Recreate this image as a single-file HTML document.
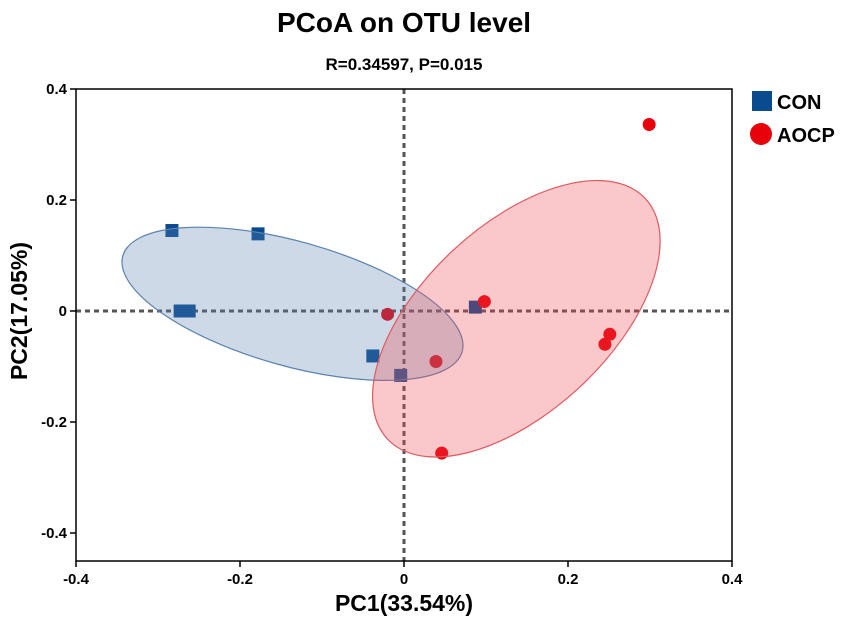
<!DOCTYPE html>
<html><head><meta charset="utf-8"><style>
html,body{margin:0;padding:0;background:#fff;}
svg{display:block;font-family:"Liberation Sans",Arial,sans-serif;font-weight:bold;}
</style></head><body>
<svg id="chart" width="851" height="621" viewBox="0 0 851 621" xmlns="http://www.w3.org/2000/svg">
<text x="404" y="32" font-size="28" text-anchor="middle">PCoA on OTU level</text>
<text x="404" y="70" font-size="17" text-anchor="middle">R=0.34597, P=0.015</text>
<g id="plot"></g>
<text x="404" y="611" font-size="23" text-anchor="middle">PC1(33.54%)</text>
<text transform="translate(27,311) rotate(-90)" font-size="23" text-anchor="middle">PC2(17.05%)</text>
<g>
<rect x="752" y="91" width="20" height="20" fill="#0a4a8f"/>
<text x="777" y="109" font-size="20">CON</text>
<circle cx="761" cy="134" r="11" fill="#e8000b"/>
<text x="777" y="142" font-size="20">AOCP</text>
</g>
</svg>
<script>
const xTicks=[-0.4,-0.2,0,0.2,0.4];
const yTicks=[-0.4,-0.2,0,0.2,0.4];
const xTickLabels=["-0.4","-0.2","0","0.2","0.4"];
const yTickLabels=["-0.4","-0.2","0","0.2","0.4"];
const conX=[-0.283,-0.178,-0.273,-0.262,-0.038,-0.004,0.087];
const conY=[0.145,0.139,0,0,-0.081,-0.116,0.007];
const aocpX=[-0.020,0.098,0.039,0.251,0.245,0.046,0.299];
const aocpY=[-0.006,0.017,-0.091,-0.042,-0.060,-0.256,0.336];
// ellipses: center x, center y (data), semi-axes (data units), rotation deg
const conEllipse=[-0.136,0.013,0.215,0.112,15.75];
const aocpEllipse=[0.137,-0.014,0.215,0.168,-43];

const NS="http://www.w3.org/2000/svg";
const X0=76,X1=732,Y0=89,Y1=561;
const sx=v=>404+v*820;
const sy=v=>311-v*555;
const plot=document.getElementById('plot');
function mk(tag,attrs,parent){const e=document.createElementNS(NS,tag);for(const k in attrs)e.setAttribute(k,attrs[k]);(parent||plot).appendChild(e);return e;}

// zero lines
let l=mk('line',{x1:X0,x2:X1,y1:sy(0),y2:sy(0),stroke:'#555','stroke-width':3,'stroke-dasharray':'5,4'});


l=mk('line',{x1:sx(0),x2:sx(0),y1:Y0,y2:Y1,stroke:'#555','stroke-width':3,'stroke-dasharray':'5,4'});



// points
conX.forEach((x,i)=>{
 const r=mk('rect',{x:sx(x)-6.5,y:sy(conY[i])-6.5,width:13,height:13,fill:'#0a4a8f'});
 
 
});
aocpX.forEach((x,i)=>{
 const c=mk('circle',{cx:sx(x),cy:sy(aocpY[i]),r:6.5,fill:'#e8000b'});
 
 
});

// ellipses
function ell(p,fill,stroke,name){
 const e=mk('ellipse',{cx:sx(p[0]),cy:sy(p[1]),rx:p[2]*820,ry:p[3]*555,fill:fill,'fill-opacity':0.3,stroke:stroke,'stroke-width':1.2,
  transform:`rotate(${p[4]} ${sx(p[0])} ${sy(p[1])})`});
 
 
}
ell(conEllipse,'#5a82ae','#5a82ae','con-ellipse');
ell(aocpEllipse,'#f0484f','#e05a5f','aocp-ellipse');

// frame
const f=mk('rect',{x:X0,y:Y0,width:X1-X0,height:Y1-Y0,fill:'none',stroke:'#000','stroke-width':1.5});



// ticks
xTicks.forEach((v,i)=>{
 const t=mk('line',{x1:sx(v),x2:sx(v),y1:Y1,y2:Y1+6,stroke:'#000','stroke-width':1.5});
 
 
 const tx=mk('text',{x:sx(v),y:Y1+23,'font-size':15,'text-anchor':'middle'});
 tx.textContent=xTickLabels[i];
 
 
});
yTicks.forEach((v,i)=>{
 const t=mk('line',{x1:X0-6,x2:X0,y1:sy(v),y2:sy(v),stroke:'#000','stroke-width':1.5});
 
 
 const tx=mk('text',{x:X0-9,y:sy(v)+5,'font-size':15,'text-anchor':'end'});
 tx.textContent=yTickLabels[i];
 
 
});
</script>
</body></html>
